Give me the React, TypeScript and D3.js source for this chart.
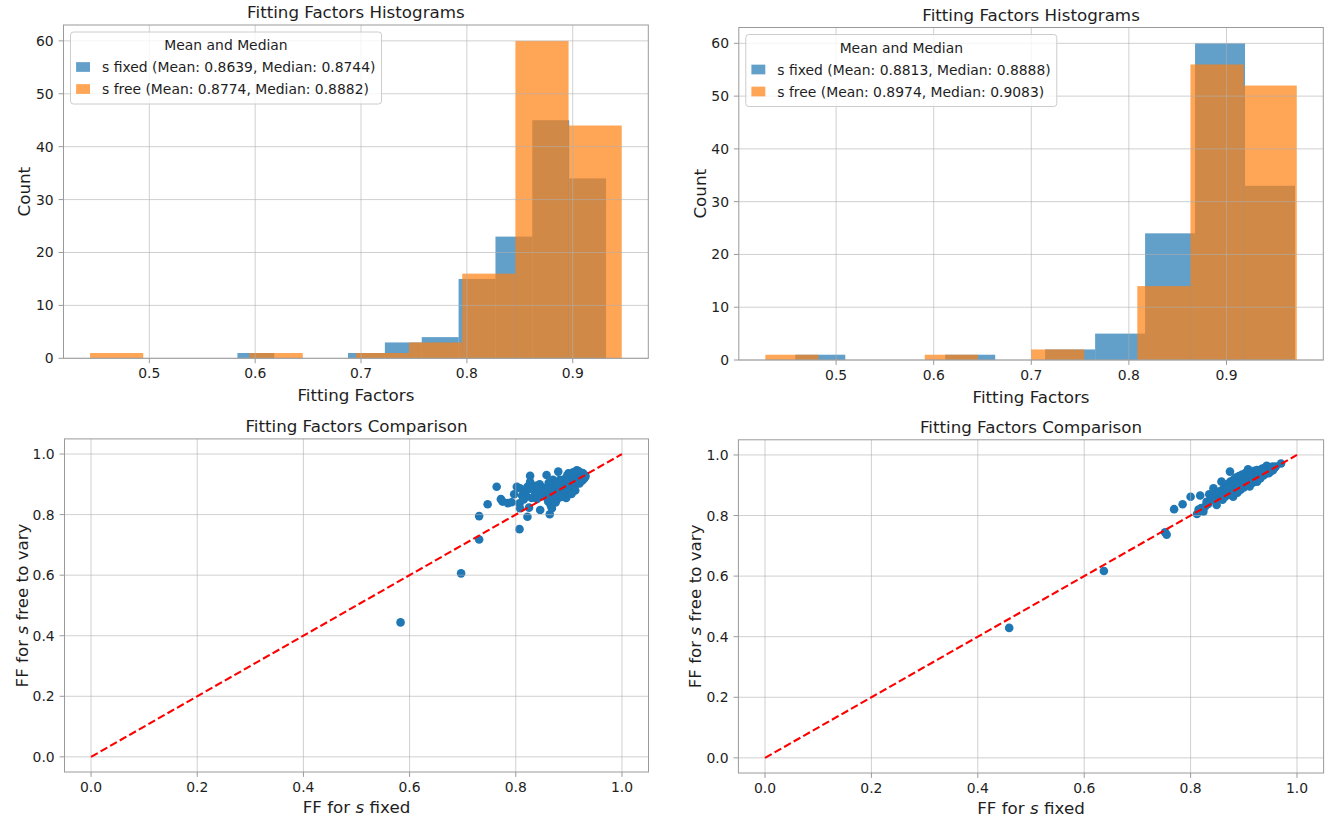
import React from "react";
import * as d3 from "d3";

const FONT = "DejaVu Sans, Verdana, sans-serif";
const BLUE = "#1f77b4";
const ORANGE = "#ff7f0e";
const TEXT = "#1e1e1e";
const SPINE = "#9a9a9a";
const GRID = "#b0b0b0";

// Histogram samples summarised as [min, max] of the data and ten equal-width bin counts
const leftFixedRange = [0.5832, 0.9315];
const leftFixedCounts = [1, 0, 0, 1, 3, 4, 15, 23, 45, 34];
const leftFreeRange = [0.444, 0.9463];
const leftFreeCounts = [1, 0, 0, 1, 0, 1, 3, 16, 60, 44];

const rightFixedRange = [0.4582, 0.9702];
const rightFixedCounts = [1, 0, 0, 1, 0, 2, 5, 24, 60, 33];
const rightFreeRange = [0.4275, 0.972];
const rightFreeCounts = [1, 0, 0, 1, 0, 2, 0, 14, 56, 52];

const histTicksX = [0.5, 0.6, 0.7, 0.8, 0.9];
const histTicksY = [0, 10, 20, 30, 40, 50, 60];
const cmpTicks = [0, 0.2, 0.4, 0.6, 0.8, 1.0];

const leftLegend = [
  "s fixed (Mean: 0.8639, Median: 0.8744)",
  "s free (Mean: 0.8774, Median: 0.8882)",
];
const rightLegend = [
  "s fixed (Mean: 0.8813, Median: 0.8888)",
  "s free (Mean: 0.8974, Median: 0.9083)",
];

// (FF with s fixed, FF with s free to vary)
const leftPairs: [number, number][] = [
  [0.583, 0.444], [0.697, 0.606], [0.731, 0.718], [0.731, 0.795], [0.747, 0.834], [0.764, 0.892],
  [0.772, 0.851], [0.775, 0.843], [0.785, 0.838], [0.792, 0.841], [0.797, 0.867], [0.802, 0.892],
  [0.808, 0.887], [0.807, 0.837], [0.808, 0.821], [0.807, 0.752], [0.812, 0.862], [0.815, 0.87],
  [0.819, 0.876], [0.822, 0.892], [0.822, 0.793], [0.825, 0.823], [0.827, 0.928], [0.827, 0.908],
  [0.833, 0.881], [0.836, 0.86], [0.84, 0.852], [0.842, 0.87], [0.846, 0.815], [0.85, 0.89],
  [0.852, 0.878], [0.856, 0.887], [0.858, 0.931], [0.86, 0.868], [0.861, 0.843], [0.864, 0.801],
  [0.866, 0.83], [0.868, 0.821], [0.87, 0.86], [0.871, 0.898], [0.872, 0.885], [0.874, 0.865],
  [0.876, 0.875], [0.877, 0.848], [0.878, 0.905], [0.88, 0.942], [0.88, 0.89], [0.882, 0.87],
  [0.883, 0.915], [0.883, 0.877], [0.885, 0.9], [0.886, 0.885], [0.888, 0.86], [0.89, 0.892],
  [0.89, 0.908], [0.892, 0.875], [0.893, 0.865], [0.894, 0.92], [0.895, 0.898], [0.896, 0.885],
  [0.897, 0.93], [0.898, 0.87], [0.899, 0.936], [0.9, 0.905], [0.901, 0.892], [0.902, 0.909],
  [0.902, 0.887], [0.903, 0.915], [0.904, 0.878], [0.905, 0.925], [0.906, 0.9], [0.907, 0.893],
  [0.908, 0.92], [0.909, 0.91], [0.91, 0.9], [0.911, 0.932], [0.912, 0.898], [0.913, 0.917],
  [0.914, 0.905], [0.915, 0.946], [0.916, 0.925], [0.917, 0.931], [0.918, 0.912], [0.919, 0.92],
  [0.92, 0.903], [0.921, 0.909], [0.922, 0.93], [0.923, 0.918], [0.924, 0.938], [0.925, 0.912],
  [0.926, 0.925], [0.927, 0.936], [0.928, 0.918], [0.929, 0.92], [0.93, 0.93], [0.931, 0.925],
  [0.931, 0.928], [0.912, 0.88], [0.905, 0.868], [0.895, 0.855], [0.885, 0.858], [0.875, 0.84],
  [0.865, 0.855], [0.855, 0.86], [0.87, 0.915], [0.862, 0.905], [0.845, 0.9], [0.838, 0.895],
  [0.893, 0.91], [0.918, 0.944], [0.908, 0.94], [0.899, 0.89], [0.887, 0.91], [0.877, 0.9],
  [0.866, 0.885], [0.854, 0.875], [0.848, 0.862], [0.83, 0.855], [0.82, 0.86], [0.815, 0.85],
];

const rightPairs: [number, number][] = [
  [0.459, 0.429], [0.637, 0.617], [0.752, 0.745], [0.755, 0.737], [0.769, 0.821], [0.785, 0.837],
  [0.8, 0.862], [0.812, 0.805], [0.815, 0.82], [0.818, 0.866], [0.82, 0.825], [0.824, 0.813],
  [0.827, 0.829], [0.83, 0.845], [0.833, 0.838], [0.835, 0.87], [0.838, 0.852], [0.84, 0.857],
  [0.843, 0.89], [0.845, 0.862], [0.847, 0.848], [0.849, 0.835], [0.85, 0.875], [0.852, 0.866],
  [0.855, 0.88], [0.857, 0.858], [0.858, 0.912], [0.86, 0.885], [0.862, 0.87], [0.864, 0.89],
  [0.865, 0.862], [0.867, 0.9], [0.868, 0.878], [0.87, 0.905], [0.871, 0.872], [0.873, 0.888],
  [0.874, 0.945], [0.875, 0.912], [0.877, 0.895], [0.878, 0.88], [0.88, 0.917], [0.88, 0.862],
  [0.882, 0.903], [0.884, 0.89], [0.885, 0.925], [0.887, 0.898], [0.888, 0.875], [0.89, 0.912],
  [0.891, 0.93], [0.893, 0.9], [0.894, 0.885], [0.896, 0.918], [0.897, 0.935], [0.899, 0.905],
  [0.9, 0.893], [0.902, 0.922], [0.903, 0.94], [0.905, 0.912], [0.906, 0.9], [0.908, 0.953],
  [0.909, 0.928], [0.911, 0.934], [0.911, 0.896], [0.913, 0.918], [0.914, 0.942], [0.916, 0.925],
  [0.917, 0.908], [0.919, 0.935], [0.92, 0.948], [0.922, 0.92], [0.924, 0.938], [0.925, 0.912],
  [0.927, 0.944], [0.928, 0.93], [0.93, 0.95], [0.931, 0.922], [0.933, 0.94], [0.935, 0.955],
  [0.937, 0.932], [0.938, 0.945], [0.94, 0.958], [0.941, 0.938], [0.943, 0.964], [0.944, 0.948],
  [0.946, 0.952], [0.947, 0.94], [0.949, 0.96], [0.95, 0.945], [0.952, 0.955], [0.954, 0.962],
  [0.955, 0.95], [0.958, 0.958], [0.96, 0.962], [0.97, 0.972], [0.89, 0.882], [0.875, 0.868],
  [0.86, 0.852], [0.905, 0.925], [0.92, 0.93], [0.895, 0.91], [0.885, 0.905], [0.87, 0.89],
  [0.9, 0.915], [0.915, 0.93], [0.935, 0.945], [0.925, 0.95],
];

type Box = { x0: number; x1: number; y0: number; y1: number };

const fmt1 = d3.format(".1f");

function binsOf(range: number[], counts: number[]) {
  const w = (range[1] - range[0]) / counts.length;
  return counts
    .map((c, i) => ({ a: range[0] + i * w, b: range[0] + (i + 1) * w, c }))
    .filter((d) => d.c > 0);
}

function Frame({ box, x, y, xTicks, yTicks, xFmt, yFmt }: any) {
  return (
    <g>
      {/* grid */}
      {xTicks.map((t: number) => (
        <line key={"gx" + t} x1={x(t)} x2={x(t)} y1={box.y0} y2={box.y1} stroke={GRID} strokeWidth={0.8} strokeOpacity={0.75} />
      ))}
      {yTicks.map((t: number) => (
        <line key={"gy" + t} x1={box.x0} x2={box.x1} y1={y(t)} y2={y(t)} stroke={GRID} strokeWidth={0.8} strokeOpacity={0.75} />
      ))}
      {/* spines */}
      <rect x={box.x0} y={box.y0} width={box.x1 - box.x0} height={box.y1 - box.y0} fill="none" stroke={SPINE} strokeWidth={1} />
      {/* ticks */}
      {xTicks.map((t: number) => (
        <g key={"tx" + t}>
          <line x1={x(t)} x2={x(t)} y1={box.y1} y2={box.y1 + 4.9} stroke={SPINE} strokeWidth={1} />
          <text x={x(t)} y={box.y1 + 20} textAnchor="middle" fontSize={13.9} fill={TEXT}>{xFmt(t)}</text>
        </g>
      ))}
      {yTicks.map((t: number) => (
        <g key={"ty" + t}>
          <line x1={box.x0 - 4.9} x2={box.x0} y1={y(t)} y2={y(t)} stroke={SPINE} strokeWidth={1} />
          <text x={box.x0 - 9.8} y={y(t) + 5} textAnchor="end" fontSize={13.9} fill={TEXT}>{yFmt(t)}</text>
        </g>
      ))}
    </g>
  );
}

function HistPanel({ box, xDomain, fixedRange, fixedCounts, freeRange, freeCounts, legend, yLabelX }: any) {
  const x = d3.scaleLinear().domain(xDomain).range([box.x0, box.x1]);
  const y = d3.scaleLinear().domain([0, 63]).range([box.y1, box.y0]);
  const cx = (box.x0 + box.x1) / 2;
  const lx = box.x0 + 7;
  const ly = box.y0 + 7;
  const lw = 311;
  const lh = 72;
  return (
    <g>
      {binsOf(fixedRange, fixedCounts).map((d, i) => (
        <rect key={"f" + i} x={x(d.a)} y={y(d.c)} width={x(d.b) - x(d.a)} height={y(0) - y(d.c)} fill={BLUE} fillOpacity={0.7} />
      ))}
      {binsOf(freeRange, freeCounts).map((d, i) => (
        <rect key={"v" + i} x={x(d.a)} y={y(d.c)} width={x(d.b) - x(d.a)} height={y(0) - y(d.c)} fill={ORANGE} fillOpacity={0.7} />
      ))}
      <Frame box={box} x={x} y={y} xTicks={histTicksX} yTicks={histTicksY} xFmt={fmt1} yFmt={(t: number) => String(t)} />
      <text x={cx} y={box.y0 - 7} textAnchor="middle" fontSize={16.7} fill={TEXT}>Fitting Factors Histograms</text>
      <text x={cx} y={box.y1 + 43} textAnchor="middle" fontSize={16.7} fill={TEXT}>Fitting Factors</text>
      <text transform={`translate(${yLabelX},${(box.y0 + box.y1) / 2}) rotate(-90)`} textAnchor="middle" fontSize={16.7} fill={TEXT}>Count</text>
      {/* legend */}
      <rect x={lx} y={ly} width={lw} height={lh} rx={3} fill="#ffffff" fillOpacity={0.8} stroke="#cccccc" strokeWidth={1} />
      <text x={lx + lw / 2} y={ly + 18} textAnchor="middle" fontSize={13.9} fill={TEXT}>Mean and Median</text>
      {[BLUE, ORANGE].map((c, i) => (
        <g key={c}>
          <rect x={lx + 5.6} y={ly + 35 + i * 22 - 4.85} width={13.9} height={9.7} fill={c} fillOpacity={0.7} />
          <text x={lx + 31.5} y={ly + 35 + i * 22 + 5} fontSize={13.9} fill={TEXT}>{legend[i]}</text>
        </g>
      ))}
    </g>
  );
}

function ScatterPanel({ box, pairs, yLabelX }: any) {
  const x = d3.scaleLinear().domain([-0.05, 1.05]).range([box.x0, box.x1]);
  const y = d3.scaleLinear().domain([-0.05, 1.05]).range([box.y1, box.y0]);
  const cx = (box.x0 + box.x1) / 2;
  const diag = d3.line<number>().x((v) => x(v)).y((v) => y(v));
  return (
    <g>
      {pairs.map((p: [number, number], i: number) => (
        <circle key={i} cx={x(p[0])} cy={y(p[1])} r={4.3} fill={BLUE} />
      ))}
      <Frame box={box} x={x} y={y} xTicks={cmpTicks} yTicks={cmpTicks} xFmt={fmt1} yFmt={fmt1} />
      <path d={diag([0, 1]) || ""} stroke="#ff0000" strokeWidth={2.1} strokeDasharray="7.7 3.3" fill="none" />
      <text x={cx} y={box.y0 - 7} textAnchor="middle" fontSize={16.7} fill={TEXT}>Fitting Factors Comparison</text>
      <text x={cx} y={box.y1 + 41} textAnchor="middle" fontSize={16.7} fill={TEXT}>
        FF for <tspan fontStyle="italic">s</tspan> fixed
      </text>
      <text transform={`translate(${yLabelX},${(box.y0 + box.y1) / 2}) rotate(-90)`} textAnchor="middle" fontSize={16.7} fill={TEXT}>
        FF for <tspan fontStyle="italic">s</tspan> free to vary
      </text>
    </g>
  );
}

export default function App() {
  const tl: Box = { x0: 63.5, x1: 648.3, y0: 25, y1: 358.3 };
  const tr: Box = { x0: 738.8, x1: 1323.3, y0: 27.5, y1: 360 };
  const bl: Box = { x0: 64.5, x1: 648.5, y0: 438.9, y1: 772 };
  const br: Box = { x0: 738.4, x1: 1323.6, y0: 439.8, y1: 773 };
  return (
    <svg
      width={1327}
      height={818}
      style={{ position: "absolute", left: 0, top: 0, background: "#ffffff" }}
      fontFamily={FONT}
    >
      <rect width={1327} height={818} fill="#ffffff" />
      <HistPanel box={tl} xDomain={[0.4189, 0.9714]} fixedRange={leftFixedRange} fixedCounts={leftFixedCounts}
        freeRange={leftFreeRange} freeCounts={leftFreeCounts} legend={leftLegend} yLabelX={30} />
      <HistPanel box={tr} xDomain={[0.4003, 0.9992]} fixedRange={rightFixedRange} fixedCounts={rightFixedCounts}
        freeRange={rightFreeRange} freeCounts={rightFreeCounts} legend={rightLegend} yLabelX={706} />
      <ScatterPanel box={bl} pairs={leftPairs} yLabelX={28} />
      <ScatterPanel box={br} pairs={rightPairs} yLabelX={701} />
    </svg>
  );
}
